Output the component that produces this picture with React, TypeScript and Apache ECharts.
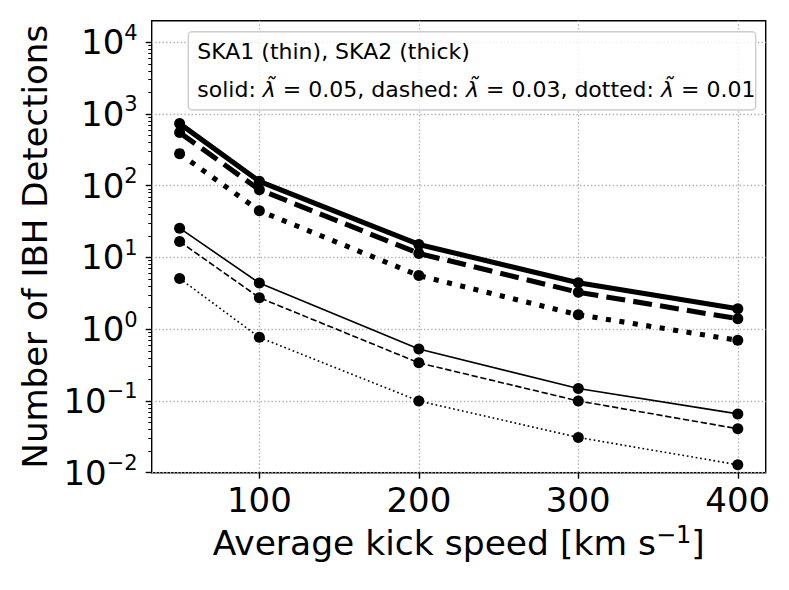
import React, { useEffect, useRef } from "react";
import * as echarts from "echarts";

const speeds = [50, 100, 200, 300, 400];
const ska2Solid = [735, 115, 15.2, 4.43, 1.93];
const ska2Dashed = [550, 88, 11.4, 3.27, 1.4];
const ska2Dotted = [280, 44.8, 5.6, 1.59, 0.7];
const ska1Solid = [25.6, 4.4, 0.53, 0.149, 0.066];
const ska1Dashed = [16.7, 2.75, 0.34, 0.1, 0.041];
const ska1Dotted = [5.1, 0.77, 0.1, 0.031, 0.0129];
const xTicks = [100, 200, 300, 400];
const yDecades = [-2, -1, 0, 1, 2, 3, 4];
const legendLine1 = "SKA1 (thin), SKA2 (thick)";
const legendLine2 = "solid: {m|λ̃} = 0.05, dashed: {m|λ̃} = 0.03, dotted: {m|λ̃} = 0.01";

const FONT = "DejaVu Sans";
const Y_MIN = -2;
const Y_MAX = 4.3;

export default function App() {
  const ref = useRef<HTMLDivElement>(null);
  useEffect(() => {
    if (!ref.current) return;
    const chart = echarts.init(ref.current, null, { renderer: "svg" });
    const toLog = (arr: number[]) => arr.map((v, i) => [speeds[i], Math.log10(v)]);
    const minors: number[] = [];
    for (let n = -2; n <= 4; n++) {
      for (let k = 2; k <= 9; k++) {
        const l = Math.log10(k * Math.pow(10, n));
        if (l < Y_MAX) minors.push(l);
      }
    }
    const mk = (data: number[], width: number, type: any) => ({
      type: "line",
      data: toLog(data),
      symbol: "circle",
      symbolSize: 11,
      itemStyle: { color: "#000" },
      lineStyle: { color: "#000", width, type, cap: "butt" },
      xAxisIndex: 0,
      yAxisIndex: 0,
    });
    chart.setOption({
      animation: false,
      grid: {
        left: 151.7,
        top: 20.7,
        right: 23.3,
        bottom: 117.3,
        show: true,
        borderColor: "#000",
        borderWidth: 1.4,
        backgroundColor: "transparent",
        outerBoundsMode: "none",
      },
      xAxis: {
        type: "value",
        min: 32.5,
        max: 417.5,
        position: "bottom",
        axisLine: { show: false, onZero: false },
        axisTick: { show: true, length: 6, customValues: xTicks, lineStyle: { color: "#000", width: 1.4 } },
        axisLabel: {
          customValues: xTicks,
          color: "#000",
          fontFamily: FONT,
          fontSize: 34,
          margin: 10,
        },
        splitLine: { show: true, lineStyle: { color: "#b0b0b0", width: 1.37, type: [1.37, 2.26] } },
        name: "Average kick speed [km s{s|−1}]",
        nameLocation: "middle",
        nameGap: 50,
        nameTextStyle: {
          color: "#000",
          fontFamily: FONT,
          fontSize: 34.5,
          lineHeight: 40,
          rich: { s: { fontSize: 24, lineHeight: 31, verticalAlign: "top", fontFamily: FONT, color: "#000" } },
        },
      },
      yAxis: [
        {
          type: "value",
          min: Y_MIN,
          max: Y_MAX,
          interval: 1,
          position: "left",
          axisLine: { show: false, onZero: false },
          axisTick: { show: true, length: 6, customValues: yDecades, lineStyle: { color: "#000", width: 1.4 } },
          axisLabel: {
            customValues: yDecades,
            color: "#000",
            fontFamily: FONT,
            fontSize: 34,
            lineHeight: 40,
            margin: 14,
            formatter: (v: number) => {
              const e = Math.round(v);
              return "10{s|" + (e < 0 ? "−" + -e : String(e)) + "}";
            },
            rich: { s: { fontSize: 21, lineHeight: 20, verticalAlign: "top", fontFamily: FONT, color: "#000" } },
          },
          splitLine: { show: true, lineStyle: { color: "#b0b0b0", width: 1.37, type: [1.37, 2.26] } },
          name: "Number of IBH Detections",
          nameLocation: "middle",
          nameGap: 100,
          nameTextStyle: { color: "#000", fontFamily: FONT, fontSize: 34 },
        },
        {
          type: "value",
          min: Y_MIN,
          max: Y_MAX,
          position: "left",
          axisLine: { show: false, onZero: false },
          axisLabel: { show: false },
          splitLine: { show: false },
          axisTick: { show: true, length: 3.4, customValues: minors, lineStyle: { color: "#000", width: 1 } },
        },
      ],
      series: [
        mk(ska2Solid, 5.1, "solid"),
        mk(ska2Dashed, 5.1, [19, 8.2]),
        mk(ska2Dotted, 5.1, [5.1, 8.5]),
        mk(ska1Solid, 1.6, "solid"),
        mk(ska1Dashed, 1.6, [6.3, 2.7]),
        mk(ska1Dotted, 1.6, [1.7, 2.8]),
      ],
      graphic: [
        {
          type: "rect",
          shape: { x: 188.3, y: 31.7, width: 567.4, height: 78.3, r: 4 },
          style: { fill: "rgba(255,255,255,0.8)", stroke: "#cccccc", lineWidth: 1.4 },
          z: 100,
        },
        {
          type: "text",
          x: 197.3,
          y: 51.4,
          z: 101,
          style: { text: legendLine1, fontFamily: FONT, fontSize: 22, fill: "#000", verticalAlign: "middle", align: "left" },
        },
        {
          type: "text",
          x: 197.3,
          y: 89.1,
          z: 101,
          style: {
            text: legendLine2,
            fontFamily: FONT,
            fontSize: 22,
            fill: "#000",
            verticalAlign: "middle",
            align: "left",
            rich: { m: { fontFamily: FONT, fontSize: 22, fontStyle: "italic", fill: "#000" } },
          },
        },
      ],
    });
    return () => chart.dispose();
  }, []);
  return (
    <div
      ref={ref}
      style={{ position: "fixed", left: 0, top: 0, width: 789, height: 590, background: "#fff" }}
    />
  );
}
